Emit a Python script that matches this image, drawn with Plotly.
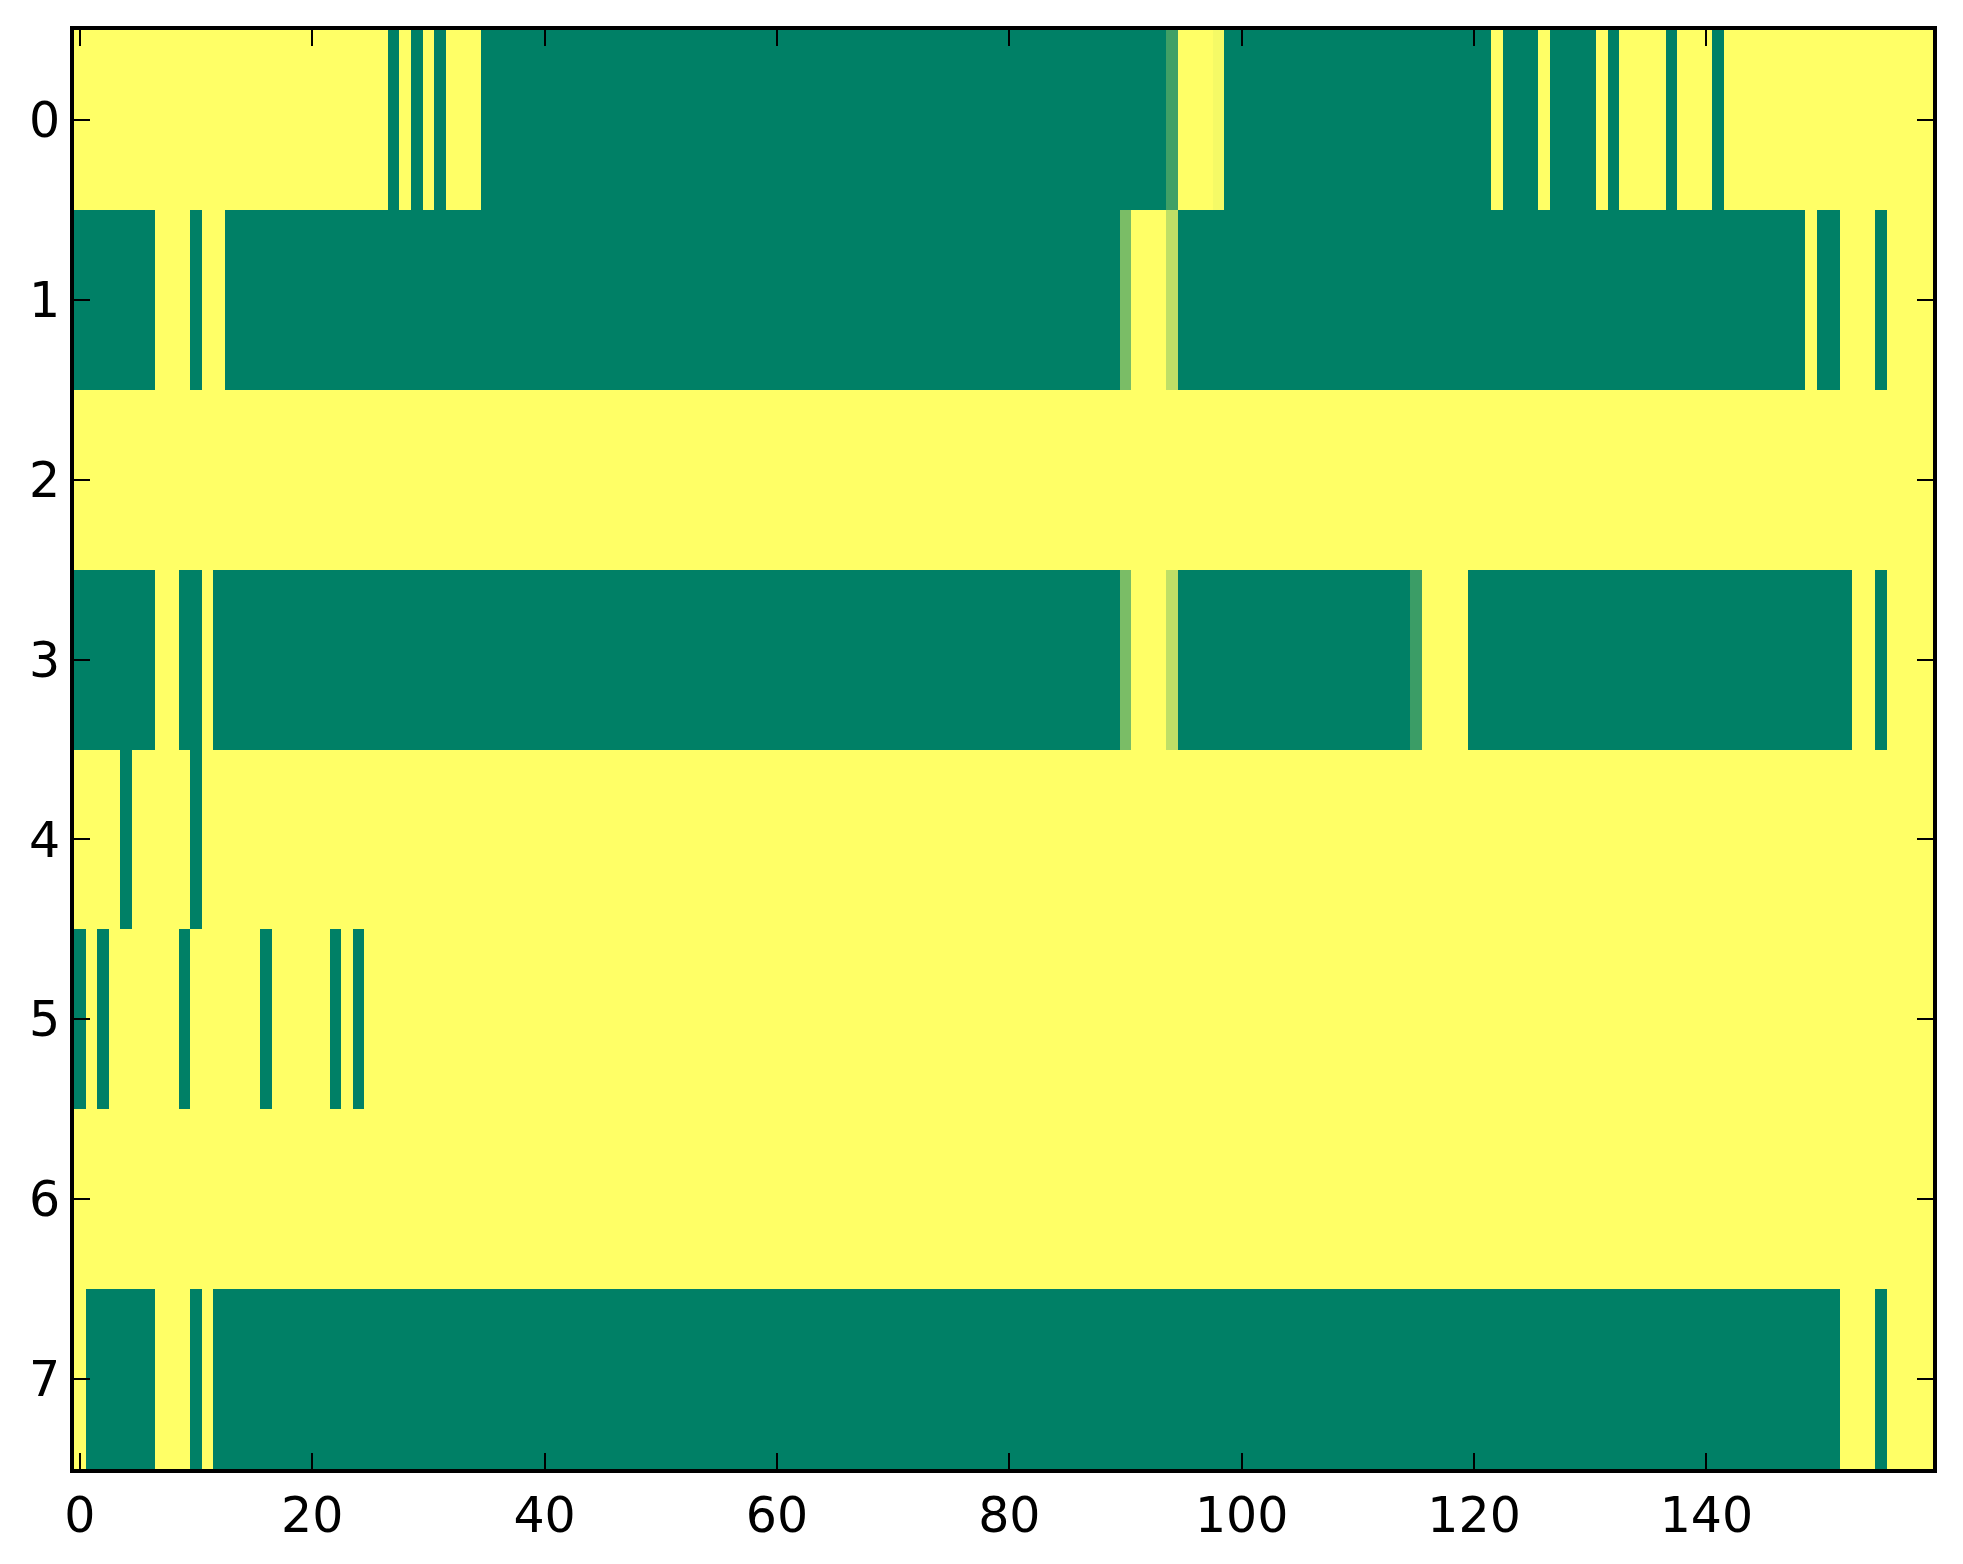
import plotly.graph_objects as go

# 8 rows x 160 columns, 0 = green, 1 = yellow (matplotlib "summer")
row0 = [1, 1, 1, 1, 1, 1, 1, 1, 1, 1, 1, 1, 1, 1, 1, 1, 1, 1, 1, 1,
        1, 1, 1, 1, 1, 1, 1, 0, 1, 0, 1, 0, 1, 1, 1, 0, 0, 0, 0, 0,
        0, 0, 0, 0, 0, 0, 0, 0, 0, 0, 0, 0, 0, 0, 0, 0, 0, 0, 0, 0,
        0, 0, 0, 0, 0, 0, 0, 0, 0, 0, 0, 0, 0, 0, 0, 0, 0, 0, 0, 0,
        0, 0, 0, 0, 0, 0, 0, 0, 0, 0, 0, 0, 0, 0, 0.25, 1, 1, 1, 0.96, 0,
        0, 0, 0, 0, 0, 0, 0, 0, 0, 0, 0, 0, 0, 0, 0, 0, 0, 0, 0, 0,
        0, 0, 1, 0, 0, 0, 1, 0, 0, 0, 0, 1, 0, 1, 1, 1, 1, 0, 1, 1,
        1, 0, 1, 1, 1, 1, 1, 1, 1, 1, 1, 1, 1, 1, 1, 1, 1, 1, 1, 1]

row1 = [0, 0, 0, 0, 0, 0, 0, 1, 1, 1, 0, 1, 1, 0, 0, 0, 0, 0, 0, 0,
        0, 0, 0, 0, 0, 0, 0, 0, 0, 0, 0, 0, 0, 0, 0, 0, 0, 0, 0, 0,
        0, 0, 0, 0, 0, 0, 0, 0, 0, 0, 0, 0, 0, 0, 0, 0, 0, 0, 0, 0,
        0, 0, 0, 0, 0, 0, 0, 0, 0, 0, 0, 0, 0, 0, 0, 0, 0, 0, 0, 0,
        0, 0, 0, 0, 0, 0, 0, 0, 0, 0, 0.48, 1, 1, 1, 0.75, 0, 0, 0, 0, 0,
        0, 0, 0, 0, 0, 0, 0, 0, 0, 0, 0, 0, 0, 0, 0, 0, 0, 0, 0, 0,
        0, 0, 0, 0, 0, 0, 0, 0, 0, 0, 0, 0, 0, 0, 0, 0, 0, 0, 0, 0,
        0, 0, 0, 0, 0, 0, 0, 0, 0, 1, 0, 0, 1, 1, 1, 0, 1, 1, 1, 1]

row2 = [1, 1, 1, 1, 1, 1, 1, 1, 1, 1, 1, 1, 1, 1, 1, 1, 1, 1, 1, 1,
        1, 1, 1, 1, 1, 1, 1, 1, 1, 1, 1, 1, 1, 1, 1, 1, 1, 1, 1, 1,
        1, 1, 1, 1, 1, 1, 1, 1, 1, 1, 1, 1, 1, 1, 1, 1, 1, 1, 1, 1,
        1, 1, 1, 1, 1, 1, 1, 1, 1, 1, 1, 1, 1, 1, 1, 1, 1, 1, 1, 1,
        1, 1, 1, 1, 1, 1, 1, 1, 1, 1, 1, 1, 1, 1, 1, 1, 1, 1, 1, 1,
        1, 1, 1, 1, 1, 1, 1, 1, 1, 1, 1, 1, 1, 1, 1, 1, 1, 1, 1, 1,
        1, 1, 1, 1, 1, 1, 1, 1, 1, 1, 1, 1, 1, 1, 1, 1, 1, 1, 1, 1,
        1, 1, 1, 1, 1, 1, 1, 1, 1, 1, 1, 1, 1, 1, 1, 1, 1, 1, 1, 1]

row3 = [0, 0, 0, 0, 0, 0, 0, 1, 1, 0, 0, 1, 0, 0, 0, 0, 0, 0, 0, 0,
        0, 0, 0, 0, 0, 0, 0, 0, 0, 0, 0, 0, 0, 0, 0, 0, 0, 0, 0, 0,
        0, 0, 0, 0, 0, 0, 0, 0, 0, 0, 0, 0, 0, 0, 0, 0, 0, 0, 0, 0,
        0, 0, 0, 0, 0, 0, 0, 0, 0, 0, 0, 0, 0, 0, 0, 0, 0, 0, 0, 0,
        0, 0, 0, 0, 0, 0, 0, 0, 0, 0, 0.48, 1, 1, 1, 0.75, 0, 0, 0, 0, 0,
        0, 0, 0, 0, 0, 0, 0, 0, 0, 0, 0, 0, 0, 0, 0, 0.23, 1, 1, 1, 1,
        0, 0, 0, 0, 0, 0, 0, 0, 0, 0, 0, 0, 0, 0, 0, 0, 0, 0, 0, 0,
        0, 0, 0, 0, 0, 0, 0, 0, 0, 0, 0, 0, 0, 1, 1, 0, 1, 1, 1, 1]

row4 = [1, 1, 1, 1, 0, 1, 1, 1, 1, 1, 0, 1, 1, 1, 1, 1, 1, 1, 1, 1,
        1, 1, 1, 1, 1, 1, 1, 1, 1, 1, 1, 1, 1, 1, 1, 1, 1, 1, 1, 1,
        1, 1, 1, 1, 1, 1, 1, 1, 1, 1, 1, 1, 1, 1, 1, 1, 1, 1, 1, 1,
        1, 1, 1, 1, 1, 1, 1, 1, 1, 1, 1, 1, 1, 1, 1, 1, 1, 1, 1, 1,
        1, 1, 1, 1, 1, 1, 1, 1, 1, 1, 1, 1, 1, 1, 1, 1, 1, 1, 1, 1,
        1, 1, 1, 1, 1, 1, 1, 1, 1, 1, 1, 1, 1, 1, 1, 1, 1, 1, 1, 1,
        1, 1, 1, 1, 1, 1, 1, 1, 1, 1, 1, 1, 1, 1, 1, 1, 1, 1, 1, 1,
        1, 1, 1, 1, 1, 1, 1, 1, 1, 1, 1, 1, 1, 1, 1, 1, 1, 1, 1, 1]

row5 = [0, 1, 0, 1, 1, 1, 1, 1, 1, 0, 1, 1, 1, 1, 1, 1, 0, 1, 1, 1,
        1, 1, 0, 1, 0, 1, 1, 1, 1, 1, 1, 1, 1, 1, 1, 1, 1, 1, 1, 1,
        1, 1, 1, 1, 1, 1, 1, 1, 1, 1, 1, 1, 1, 1, 1, 1, 1, 1, 1, 1,
        1, 1, 1, 1, 1, 1, 1, 1, 1, 1, 1, 1, 1, 1, 1, 1, 1, 1, 1, 1,
        1, 1, 1, 1, 1, 1, 1, 1, 1, 1, 1, 1, 1, 1, 1, 1, 1, 1, 1, 1,
        1, 1, 1, 1, 1, 1, 1, 1, 1, 1, 1, 1, 1, 1, 1, 1, 1, 1, 1, 1,
        1, 1, 1, 1, 1, 1, 1, 1, 1, 1, 1, 1, 1, 1, 1, 1, 1, 1, 1, 1,
        1, 1, 1, 1, 1, 1, 1, 1, 1, 1, 1, 1, 1, 1, 1, 1, 1, 1, 1, 1]

row6 = [1, 1, 1, 1, 1, 1, 1, 1, 1, 1, 1, 1, 1, 1, 1, 1, 1, 1, 1, 1,
        1, 1, 1, 1, 1, 1, 1, 1, 1, 1, 1, 1, 1, 1, 1, 1, 1, 1, 1, 1,
        1, 1, 1, 1, 1, 1, 1, 1, 1, 1, 1, 1, 1, 1, 1, 1, 1, 1, 1, 1,
        1, 1, 1, 1, 1, 1, 1, 1, 1, 1, 1, 1, 1, 1, 1, 1, 1, 1, 1, 1,
        1, 1, 1, 1, 1, 1, 1, 1, 1, 1, 1, 1, 1, 1, 1, 1, 1, 1, 1, 1,
        1, 1, 1, 1, 1, 1, 1, 1, 1, 1, 1, 1, 1, 1, 1, 1, 1, 1, 1, 1,
        1, 1, 1, 1, 1, 1, 1, 1, 1, 1, 1, 1, 1, 1, 1, 1, 1, 1, 1, 1,
        1, 1, 1, 1, 1, 1, 1, 1, 1, 1, 1, 1, 1, 1, 1, 1, 1, 1, 1, 1]

row7 = [1, 0, 0, 0, 0, 0, 0, 1, 1, 1, 0, 1, 0, 0, 0, 0, 0, 0, 0, 0,
        0, 0, 0, 0, 0, 0, 0, 0, 0, 0, 0, 0, 0, 0, 0, 0, 0, 0, 0, 0,
        0, 0, 0, 0, 0, 0, 0, 0, 0, 0, 0, 0, 0, 0, 0, 0, 0, 0, 0, 0,
        0, 0, 0, 0, 0, 0, 0, 0, 0, 0, 0, 0, 0, 0, 0, 0, 0, 0, 0, 0,
        0, 0, 0, 0, 0, 0, 0, 0, 0, 0, 0, 0, 0, 0, 0, 0, 0, 0, 0, 0,
        0, 0, 0, 0, 0, 0, 0, 0, 0, 0, 0, 0, 0, 0, 0, 0, 0, 0, 0, 0,
        0, 0, 0, 0, 0, 0, 0, 0, 0, 0, 0, 0, 0, 0, 0, 0, 0, 0, 0, 0,
        0, 0, 0, 0, 0, 0, 0, 0, 0, 0, 0, 0, 1, 1, 1, 0, 1, 1, 1, 1]

rows = [row0, row1, row2, row3, row4, row5, row6, row7]
x_ticks = [0, 20, 40, 60, 80, 100, 120, 140]
y_ticks = [0, 1, 2, 3, 4, 5, 6, 7]

# matplotlib "summer": (v, 0.5 + 0.5v, 0.4)
summer = [[0, "rgb(0,128,102)"], [1, "rgb(255,255,102)"]]

fig = go.Figure(go.Heatmap(
    z=rows,
    colorscale=summer,
    zmin=0, zmax=1,
    showscale=False,
    hoverinfo="skip",
))

axis_style = dict(
    showline=True, linewidth=4, linecolor="black", mirror="ticks",
    ticks="inside", ticklen=16, tickwidth=2, tickcolor="black",
    showgrid=False, zeroline=False,
    tickfont=dict(family="DejaVu Sans", size=49, color="black"),
)

fig.update_xaxes(range=[-0.5, 159.5], tickvals=x_ticks, **axis_style)
fig.update_yaxes(range=[7.5, -0.5], tickvals=y_ticks, **axis_style)

# the page body has an 8px margin, so the figure is made 8px smaller
fig.update_layout(
    width=1955, height=1556,
    margin=dict(l=66, r=30, t=22, b=95),
    paper_bgcolor="white", plot_bgcolor="white",
)

fig.write_html("out.html")
